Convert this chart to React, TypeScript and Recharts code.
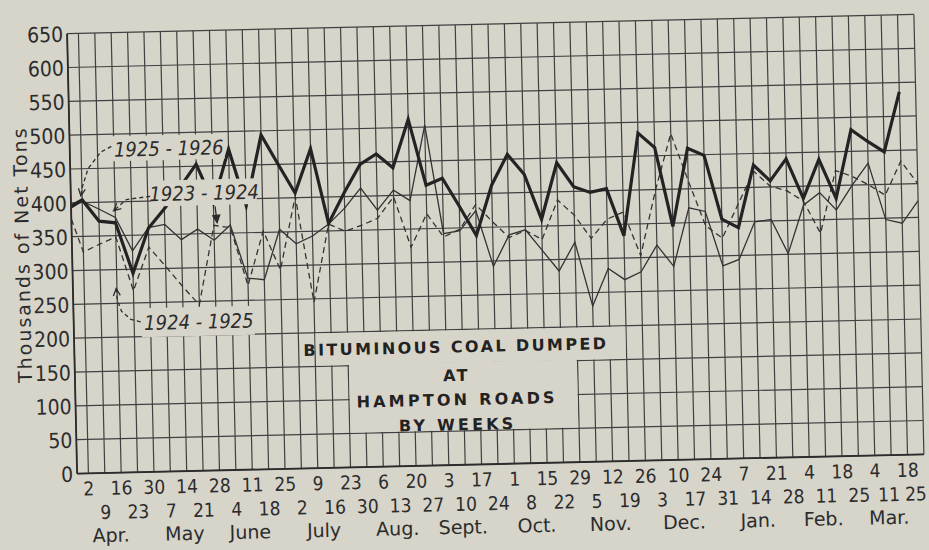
import React from "react";
import { CartesianGrid, Line, LineChart, XAxis, YAxis } from "recharts";

// week-ending dates, Apr. 2 through Mar. 25
const weekDays = [
  2, 9, 16, 23, 30, 7, 14, 21, 28, 4, 11, 18, 25, 2, 9, 16, 23, 30, 6, 13, 20, 27, 3, 10, 17, 24,
  1, 8, 15, 22, 29, 5, 12, 19, 26, 3, 10, 17, 24, 31, 7, 14, 21, 28, 4, 11, 18, 25, 4, 11, 18, 25,
];
const monthNames = ["Apr.", "May", "June", "July", "Aug.", "Sept.", "Oct.", "Nov.", "Dec.", "Jan.", "Feb.", "Mar."];
const weeksInMonth = [5, 4, 4, 5, 4, 4, 5, 4, 5, 4, 4, 4];
const yTicks = [0, 50, 100, 150, 200, 250, 300, 350, 400, 450, 500, 550, 600, 650];

// thousands of net tons; first reading sits on the left border, then one per week
const tons1923 = [
  392, 402, 390, 377, 327, 361, 365, 342, 357, 340, 362, 283, 280, 354, 332, 343, 360, 383, 412, 379,
  408, 392, 503, 342, 346, 375, 292, 338, 345, 314, 283, 325, 230, 285, 268, 279, 318, 286, 372, 366,
  285, 294, 349, 352, 301, 372, 390, 364, 400, 432, 348, 342, 375,
];
const tons1924 = [
  376, 327, 338, 348, 268, 332, 303, 273, 245, 362, 358, 272, 352, 294, 402, 245, 360, 349, 357, 367,
  398, 323, 372, 337, 348, 384, 358, 334, 344, 330, 388, 365, 330, 358, 368, 303, 400, 482, 412, 345,
  326, 375, 424, 401, 394, 378, 330, 422, 413, 400, 384, 434, 400,
];
const tons1925 = [
  395, 404, 372, 369, 294, 360, 388, 420, 453, 395, 474, 390, 494, 450, 407, 472, 361, 406, 447, 462,
  441, 512, 414, 424, 382, 338, 412, 457, 427, 360, 443, 407, 398, 403, 333, 484, 462, 345, 460, 449,
  354, 341, 433, 409, 441, 382, 439, 381, 482, 464, 448, 536, null,
];

const BG = "#d7d4ca";
const INK = "#2c2c2c";
const GRID = "#404040";
const NUM_FONT = "'Liberation Sans Narrow', 'DejaVu Sans Condensed', 'Arial Narrow', sans-serif";
const WORD_FONT = "'DejaVu Sans', Verdana, sans-serif";

const W = 929;
const H = 550;
const M = { top: 24, right: 10, left: 12, bottom: 8 };
const Y_AXIS_W = 60;
const X_AXIS_H = 48;
const MONTH_AXIS_H = 30;
const X_MIN = 0.31;
const X_MAX = 52;
const Y_MAX = 650;
const PLOT_L = M.left + Y_AXIS_W;
const PLOT_T = M.top;
const PLOT_W = W - PLOT_L - M.right;
const PLOT_H = H - M.top - M.bottom - X_AXIS_H - MONTH_AXIS_H;

const px = (i: number) => PLOT_L + ((i - X_MIN) / (X_MAX - X_MIN)) * PLOT_W;
const py = (v: number) => PLOT_T + (1 - v / Y_MAX) * PLOT_H;

const rows = tons1925.map((_, k) => ({
  pos: Math.max(k, X_MIN),
  t23: tons1923[k],
  t24: tons1924[k],
  t25: tons1925[k],
}));

const weekTicks = weekDays.map((_, k) => k + 1);
const monthTicks: number[] = [];
{
  let first = 1;
  weeksInMonth.forEach((n) => {
    monthTicks.push(first + (n - 1) / 2 - 0.7);
    first += n;
  });
}

const WeekTick = (props: any) => {
  const { x, y, payload } = props;
  const k = payload.value as number;
  const topRow = k % 2 === 1;
  // last label hugs the right border, as in the print
  const last = k === weekDays.length;
  const nx = last ? x + 2 : k === weekDays.length - 2 ? x - 3 : x;
  return (
    <text
      x={nx}
      y={y + (topRow ? 22 : 46)}
      textAnchor={last ? "end" : "middle"}
      fontFamily={NUM_FONT}
      fontSize={19}
      fill={INK}
    >
      {weekDays[k - 1]}
    </text>
  );
};

const MonthTick = (props: any) => {
  const { x, y, index } = props;
  return (
    <text x={x} y={y + 21} textAnchor="middle" fontFamily={WORD_FONT} fontSize={19} fill={INK}>
      {monthNames[index]}
    </text>
  );
};

const TonTick = (props: any) => {
  const { y, payload } = props;
  return (
    <text x={PLOT_L - 4} y={y + 8} textAnchor="end" fontFamily={NUM_FONT} fontSize={21} fill={INK}>
      {payload.value}
    </text>
  );
};

type Pt = [number, number];

const Leader = ({ pts, dashed, filled }: { pts: Pt[]; dashed?: boolean; filled?: boolean }) => {
  const p = pts.map(([i, v]) => [px(i), py(v)]);
  const d = p.map((q, k) => `${k ? "L" : "M"}${q[0]},${q[1]}`).join(" ");
  const [tx, ty] = p[p.length - 1];
  const [sx, sy] = p[p.length - 2];
  const a = Math.atan2(ty - sy, tx - sx);
  const len = 8;
  const w1 = [tx - len * Math.cos(a - 0.45), ty - len * Math.sin(a - 0.45)];
  const w2 = [tx - len * Math.cos(a + 0.45), ty - len * Math.sin(a + 0.45)];
  return (
    <g stroke={INK} strokeWidth={1.3} fill="none">
      <path d={d} strokeDasharray={dashed ? "4 3" : undefined} />
      {filled ? (
        <path d={`M${tx},${ty} L${w1[0]},${w1[1]} L${w2[0]},${w2[1]} Z`} fill={INK} />
      ) : (
        <path d={`M${w1[0]},${w1[1]} L${tx},${ty} L${w2[0]},${w2[1]}`} />
      )}
    </g>
  );
};

const Blank = ({ i1, i2, v1, v2 }: { i1: number; i2: number; v1: number; v2: number }) => (
  <rect x={px(i1)} y={py(v2)} width={px(i2) - px(i1)} height={py(v1) - py(v2)} fill={BG} />
);

const SeriesLabel = ({ text, i, v }: { text: string; i: number; v: number }) => (
  <text
    x={px(i)}
    y={py(v) + 7}
    textAnchor="middle"
    fontFamily={NUM_FONT}
    fontSize={20}
    fontStyle="italic"
    fill={INK}
  >
    {text}
  </text>
);

const TitleLine = ({ text, v, spacing = 2.4 }: { text: string; v: number; spacing?: number }) => (
  <text
    x={px(23.6)}
    y={py(v) + 6}
    textAnchor="middle"
    fontFamily={WORD_FONT}
    fontWeight="bold"
    fontSize={16}
    letterSpacing={spacing}
    fill="#222"
  >
    {text}
  </text>
);

const Annotations = () => (
  <svg width={W} height={H} style={{ position: "absolute", left: 0, top: 0, pointerEvents: "none" }}>
    {/* area of the grid left open for the title */}
    <rect x={px(15) + 0.8} y={py(200) + 0.8} width={px(34) - px(15) - 1.6} height={py(150) - py(200) - 1.6} fill={BG} />
    <rect x={px(17) + 0.8} y={py(150) - 1.2} width={px(31) - px(17) - 1.6} height={py(50) - py(150) + 0.4} fill={BG} />
    <TitleLine text="BITUMINOUS COAL DUMPED" v={175} />
    <TitleLine text="AT" v={133} />
    <TitleLine text="HAMPTON ROADS" v={97} spacing={3.2} />
    <TitleLine text="BY WEEKS" v={60} spacing={3.2} />

    <Blank i1={2.9} i2={9.75} v1={460} v2={497} />
    <Blank i1={5.2} i2={11.65} v1={392} v2={430} />
    <Blank i1={4.45} i2={11.35} v1={199} v2={242} />
    <SeriesLabel text="1925 - 1926" i={6.35} v={477} />
    <SeriesLabel text="1923 - 1924" i={8.45} v={410} />
    <SeriesLabel text="1924 - 1925" i={7.95} v={220} />

    <Leader dashed pts={[[2.85, 482], [2.2, 474], [1.4, 450], [1.0, 421], [0.92, 410]]} />
    <Leader dashed pts={[[5.15, 407], [3.7, 403], [2.9, 387]]} />
    <Leader filled pts={[[9.1, 390], [9.2, 366]]} />
    <Leader dashed pts={[[4.4, 222], [3.8, 226], [3.25, 238], [3.0, 255], [2.95, 272]]} />

    <text
      transform={`translate(22, 244) rotate(-90)`}
      textAnchor="middle"
      dominantBaseline="central"
      fontFamily={WORD_FONT}
      fontSize={19}
      letterSpacing={2}
      fill={INK}
    >
      Thousands of Net Tons
    </text>
  </svg>
);

export default function App() {
  return (
    <div style={{ position: "fixed", left: 0, top: 0, width: W, height: H, background: BG, overflow: "hidden" }}>
      <div
        style={{
          position: "absolute",
          left: 0,
          top: 0,
          width: W,
          height: H,
          transform: "rotate(-1.3deg)",
          transformOrigin: `${PLOT_L + PLOT_W / 2}px ${PLOT_T + PLOT_H / 2}px`,
        }}
      >
        <LineChart width={W} height={H} data={rows} margin={M}>
          <CartesianGrid stroke={GRID} strokeWidth={1.2} />
          <XAxis
            dataKey="pos"
            type="number"
            domain={[X_MIN, X_MAX]}
            allowDataOverflow
            ticks={weekTicks}
            interval={0}
            tick={<WeekTick />}
            tickLine={false}
            tickSize={0}
            tickMargin={0}
            height={X_AXIS_H}
            axisLine={{ stroke: INK, strokeWidth: 1.8 }}
          />
          <XAxis
            xAxisId="month"
            dataKey="pos"
            type="number"
            domain={[X_MIN, X_MAX]}
            allowDataOverflow
            ticks={monthTicks}
            interval={0}
            tick={<MonthTick />}
            tickLine={false}
            tickSize={0}
            tickMargin={0}
            height={MONTH_AXIS_H}
            axisLine={false}
          />
          <YAxis
            type="number"
            domain={[0, Y_MAX]}
            ticks={yTicks}
            interval={0}
            width={Y_AXIS_W}
            tick={<TonTick />}
            tickLine={false}
            axisLine={{ stroke: INK, strokeWidth: 1.8 }}
          />
          <Line dataKey="t23" type="linear" stroke="#333" strokeWidth={1.3} dot={false} isAnimationActive={false} />
          <Line
            dataKey="t24"
            type="linear"
            stroke="#333"
            strokeWidth={1.3}
            strokeDasharray="6 4"
            dot={false}
            isAnimationActive={false}
          />
          <Line dataKey="t25" type="linear" stroke="#232323" strokeWidth={3.2} dot={false} isAnimationActive={false} />
        </LineChart>
        <Annotations />
      </div>
    </div>
  );
}
